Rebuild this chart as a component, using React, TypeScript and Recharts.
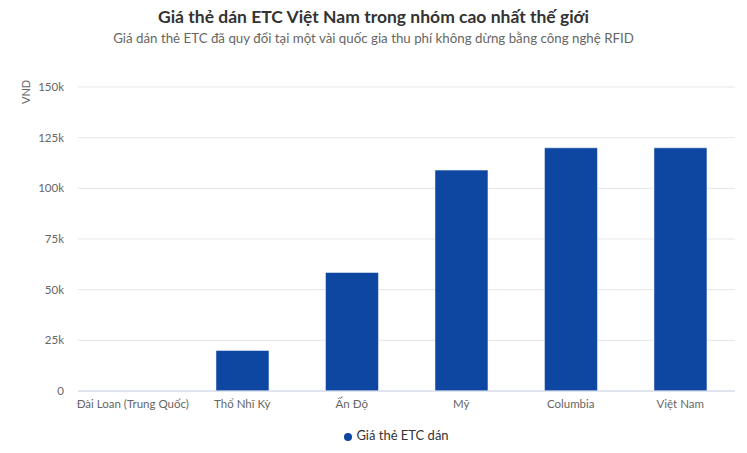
import { Bar, BarChart, CartesianGrid, Legend, XAxis, YAxis } from "recharts"

const countries = ["Đài Loan (Trung Quốc)", "Thổ Nhĩ Kỳ", "Ấn Độ", "Mỹ", "Columbia", "Việt Nam"]
const prices = [0, 20000, 58500, 109000, 120000, 120000]
const yTicks = [0, 25000, 50000, 75000, 100000, 125000, 150000]

const data = countries.map((name, i) => ({ name, price: prices[i] }))

const font = "Lato, 'Open Sans', sans-serif"

export default function App() {
  return (
    <div style={{ position: "absolute", left: 0, top: 0, width: 747, height: 453, fontFamily: font }}>
      <div
        style={{
          position: "absolute",
          top: 6,
          left: 0,
          width: 747,
          textAlign: "center",
          fontSize: 17.5,
          fontWeight: 700,
          color: "#333333",
        }}
      >
        Giá thẻ dán ETC Việt Nam trong nhóm cao nhất thế giới
      </div>
      <div
        style={{
          position: "absolute",
          top: 30,
          left: 0,
          width: 747,
          textAlign: "center",
          fontSize: 13.3,
          color: "#666666",
        }}
      >
        Giá dán thẻ ETC đã quy đổi tại một vài quốc gia thu phí không dừng bằng công nghệ RFID
      </div>
      <div
        style={{
          position: "absolute",
          left: 17,
          top: 87,
          width: 17,
          height: 17,
          fontSize: 11,
          color: "#666666",
          writingMode: "vertical-rl",
          transform: "rotate(180deg)",
          lineHeight: "17px",
        }}
      >
        VND
      </div>
      <BarChart
        width={747}
        height={453}
        data={data}
        margin={{ top: 87, right: 12, bottom: 16, left: 0 }}
        barCategoryGap="26%"
        style={{ fontFamily: font }}
      >
        <CartesianGrid vertical={false} stroke="#e6e6e6" />
        <XAxis
          dataKey="name"
          tickLine={false}
          axisLine={{ stroke: "#ccd6eb" }}
          tickSize={0}
          tickMargin={9}
          interval={0}
          tick={{ fill: "#666666", fontSize: 11.5 }}
        />
        <YAxis
          width={78}
          domain={[0, 150000]}
          ticks={yTicks}
          tickFormatter={(v: number) => (v === 0 ? "0" : `${v / 1000}k`)}
          axisLine={false}
          tickLine={false}
          tickSize={0}
          tickMargin={14}
          tick={{ fill: "#666666", fontSize: 11.5 }}
        />
        <Legend
          verticalAlign="bottom"
          iconType="circle"
          iconSize={8}
          wrapperStyle={{ bottom: 10, fontSize: 13, paddingLeft: 34 }}
          formatter={(value: string) => <span style={{ color: "#333333" }}>{value}</span>}
        />
        <Bar
          dataKey="price"
          name="Giá thẻ ETC dán"
          fill="#0d47a1"
          stroke="#ffffff"
          strokeOpacity={0.5}
          isAnimationActive={false}
        />
      </BarChart>
    </div>
  )
}
